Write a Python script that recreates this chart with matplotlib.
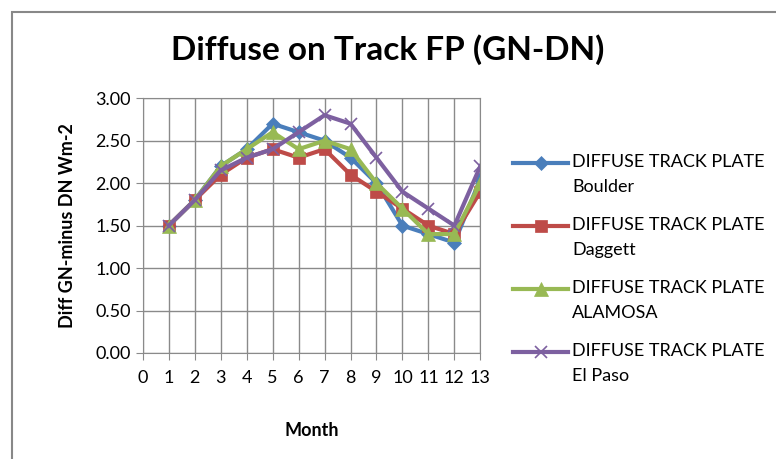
"""Diffuse on track flat plate (GN-DN) by month for four sites."""
import matplotlib
matplotlib.use("Agg")
import matplotlib.pyplot as plt
from matplotlib.patches import Rectangle
from matplotlib.ticker import FormatStrFormatter, MultipleLocator
from matplotlib.transforms import ScaledTranslation

plt.rcParams["font.family"] = ["Lato", "DejaVu Sans"]

months = list(range(1, 14))
boulder = [1.5, 1.8, 2.2, 2.4, 2.7, 2.6, 2.5, 2.3, 2.0, 1.5, 1.4, 1.3, 2.05]
daggett = [1.5, 1.8, 2.1, 2.3, 2.4, 2.3, 2.4, 2.1, 1.9, 1.7, 1.5, 1.4, 1.9]
alamosa = [1.5, 1.8, 2.2, 2.4, 2.6, 2.4, 2.5, 2.4, 2.0, 1.7, 1.4, 1.4, 2.0]
el_paso = [1.5, 1.8, 2.15, 2.3, 2.4, 2.6, 2.8, 2.7, 2.3, 1.9, 1.7, 1.5, 2.2]
labels = [
    "DIFFUSE TRACK PLATE\nBoulder",
    "DIFFUSE TRACK PLATE\nDaggett",
    "DIFFUSE TRACK PLATE\nALAMOSA",
    "DIFFUSE TRACK PLATE\nEl Paso",
]


def main() -> None:
    fig = plt.figure(figsize=(7.76, 4.59), dpi=100)
    ax = fig.add_axes([0.184, 0.231, 0.435, 0.555])

    styles = [
        (boulder, "#4A7EBB", "D", 7),
        (daggett, "#BE4B48", "s", 9),
        (alamosa, "#98B954", "^", 10),
        (el_paso, "#7D60A0", "x", 9),
    ]
    for (vals, color, marker, ms), label in zip(styles, labels):
        ax.plot(months, vals, color=color, lw=3, marker=marker, ms=ms,
                mew=1.2 if marker == "x" else 0.5, mec=color, label=label)

    ax.set_xlim(0, 13)
    ax.set_ylim(0, 3)
    ax.xaxis.set_major_locator(MultipleLocator(1))
    ax.yaxis.set_major_locator(MultipleLocator(0.5))
    ax.yaxis.set_major_formatter(FormatStrFormatter("%.2f"))
    ax.grid(True, color="#8a8a8a", lw=1)
    ax.set_axisbelow(True)
    for s in ax.spines.values():
        s.set_color("#8a8a8a")
    ax.tick_params(colors="#8a8a8a", labelcolor="black", labelsize=13,
                   direction="out", length=5)
    ax.tick_params(axis="x", pad=7)

    ax.set_xlabel("Month", fontsize=13, fontweight="bold", labelpad=26)
    ax.set_ylabel("Diff GN-minus DN Wm-2", fontsize=13, fontweight="bold",
                  labelpad=14)
    fig.text(0.5, 0.893, "Diffuse on Track FP (GN-DN)", ha="center",
             va="center", fontsize=24, fontweight="bold")

    leg = ax.legend(loc="center left", bbox_to_anchor=(1.05, 0.33),
                    frameon=False, fontsize=13, handlelength=3.0,
                    labelspacing=1.25, handletextpad=0.25)
    for t in leg.get_texts():
        t.set_linespacing(1.65)
    # Excel puts the legend key beside the first text line
    shift = ScaledTranslation(0, 0.12, fig.dpi_scale_trans)
    for h in leg.legend_handles:
        h.set_transform(h.get_transform() + shift)

    fig.patches.append(Rectangle((12 / 776, -0.1), 1.2, 1 - 12 / 459 + 0.1,
                                 transform=fig.transFigure, fill=False,
                                 ec="#888888", lw=1.5))

    fig.savefig("out.png", dpi=100)
    plt.close(fig)


if __name__ == "__main__":
    main()
